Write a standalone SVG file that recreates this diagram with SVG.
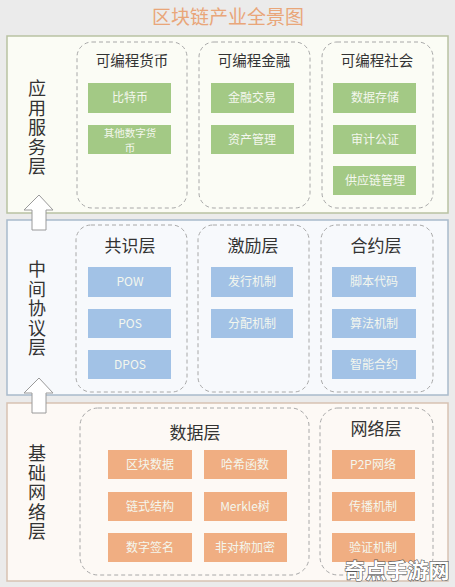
<svg xmlns="http://www.w3.org/2000/svg" width="455" height="587" viewBox="0 0 455 587">
<style>
text{font-family:"Noto Sans CJK SC","Noto Sans",sans-serif;text-anchor:middle}
.title{font-size:19px;fill:#e9a679}
.side{font-size:18px;fill:#333;writing-mode:vertical-rl;letter-spacing:1.5px}
.hdr{font-size:14.5px;fill:#333}
.hdr2{font-size:17px;fill:#333}
.dash{fill:none;stroke:#a8a8a8;stroke-width:1;stroke-dasharray:4,3}
.g{fill:#a3c985}
.b{fill:#a2c2e6}
.o{fill:#f0ae82}
.bt{font-size:12px;fill:#f4f7ee}
.bs{font-size:10.5px;fill:#f4f7ee}
.arrow{fill:#fff;stroke:#9a9a9a;stroke-width:1}
</style>
<rect width="455" height="587" fill="#ebebeb"/>
<text class="title" x="228" y="24">区块链产业全景图</text>

<g id="app-layer">
<rect x="7" y="36" width="441" height="177" fill="#fbfcf5" stroke="#b9c2a2" stroke-width="1.5"/>
<text class="side" x="37" y="128">应用服务层</text>
</g>
<g id="prog-money">
<rect class="dash" x="77" y="42" width="110" height="166" rx="15"/>
<text class="hdr" x="132" y="66">可编程货币</text>
<rect class="g" x="88" y="83" width="83" height="30"/>
<text class="bt" x="130" y="102">比特币</text>
<rect class="g" x="88" y="125" width="83" height="29"/>
<text class="bs" x="130" y="136.5">其他数字货<tspan x="130" dy="15.5">币</tspan></text>
</g>
<g id="prog-finance">
<rect class="dash" x="199" y="42" width="111" height="166" rx="15"/>
<text class="hdr" x="254" y="66">可编程金融</text>
<rect class="g" x="211" y="83" width="83" height="30"/>
<text class="bt" x="252" y="102">金融交易</text>
<rect class="g" x="211" y="125" width="83" height="29"/>
<text class="bt" x="252" y="144">资产管理</text>
</g>
<g id="prog-society">
<rect class="dash" x="322" y="42" width="111" height="166" rx="15"/>
<text class="hdr" x="377" y="66">可编程社会</text>
<rect class="g" x="333" y="83" width="83" height="30"/>
<text class="bt" x="375" y="102">数据存储</text>
<rect class="g" x="333" y="125" width="83" height="29"/>
<text class="bt" x="375" y="144">审计公证</text>
<rect class="g" x="333" y="166" width="83" height="29"/>
<text class="bt" x="375" y="185">供应链管理</text>
</g>

<g id="protocol-layer">
<rect x="7" y="220" width="441" height="175" fill="#f7f9fc" stroke="#a9bacb" stroke-width="1.5"/>
<text class="side" x="37" y="309">中间协议层</text>
</g>
<g id="consensus">
<rect class="dash" x="76" y="225" width="111" height="167" rx="15"/>
<text class="hdr2" x="130" y="252">共识层</text>
<rect class="b" x="88" y="267" width="83" height="30"/>
<text class="bt" x="130" y="286">POW</text>
<rect class="b" x="88" y="309" width="83" height="29"/>
<text class="bt" x="130" y="328">POS</text>
<rect class="b" x="88" y="350" width="83" height="29"/>
<text class="bt" x="130" y="369">DPOS</text>
</g>
<g id="incentive">
<rect class="dash" x="198" y="225" width="111" height="167" rx="15"/>
<text class="hdr2" x="253" y="252">激励层</text>
<rect class="b" x="211" y="267" width="82" height="30"/>
<text class="bt" x="252" y="286">发行机制</text>
<rect class="b" x="211" y="309" width="82" height="29"/>
<text class="bt" x="252" y="328">分配机制</text>
</g>
<g id="contract">
<rect class="dash" x="321" y="225" width="112" height="167" rx="15"/>
<text class="hdr2" x="376" y="252">合约层</text>
<rect class="b" x="332" y="267" width="84" height="30"/>
<text class="bt" x="374" y="286">脚本代码</text>
<rect class="b" x="332" y="309" width="84" height="29"/>
<text class="bt" x="374" y="328">算法机制</text>
<rect class="b" x="332" y="350" width="84" height="29"/>
<text class="bt" x="374" y="369">智能合约</text>
</g>

<g id="base-layer">
<rect x="7" y="403" width="441" height="178" fill="#fdf9f5" stroke="#d7c2b2" stroke-width="1.5"/>
<text class="side" x="37" y="493">基础网络层</text>
</g>
<g id="data-layer">
<rect class="dash" x="80" y="408" width="229" height="167" rx="18"/>
<text class="hdr2" x="195" y="439">数据层</text>
<rect class="o" x="108" y="450" width="84" height="29"/>
<text class="bt" x="150" y="469">区块数据</text>
<rect class="o" x="204" y="450" width="83" height="29"/>
<text class="bt" x="245" y="469">哈希函数</text>
<rect class="o" x="108" y="492" width="84" height="29"/>
<text class="bt" x="150" y="511">链式结构</text>
<rect class="o" x="204" y="492" width="83" height="29"/>
<text class="bt" x="245" y="511">Merkle树</text>
<rect class="o" x="108" y="533" width="84" height="29"/>
<text class="bt" x="150" y="552">数字签名</text>
<rect class="o" x="204" y="533" width="83" height="29"/>
<text class="bt" x="245" y="552">非对称加密</text>
</g>
<g id="network-layer">
<rect class="dash" x="320" y="408" width="113" height="167" rx="18"/>
<text class="hdr2" x="376" y="435">网络层</text>
<rect class="o" x="332" y="450" width="83" height="29"/>
<text class="bt" x="373" y="469">P2P网络</text>
<rect class="o" x="332" y="492" width="83" height="29"/>
<text class="bt" x="373" y="511">传播机制</text>
<rect class="o" x="332" y="533" width="83" height="29"/>
<text class="bt" x="373" y="552">验证机制</text>
</g>

<g id="connectors">
<path class="arrow" d="M39,195 L53,210 L46,210 L46,230 L32,230 L32,210 L24,210 Z"/>
<path class="arrow" d="M39,378 L53,393 L46,393 L46,413 L32,413 L32,393 L24,393 Z"/>
</g>
<text x="397" y="578" style="font-size:21px;font-weight:bold;fill:#fff;stroke:#555;stroke-width:1.2;paint-order:stroke">奇点手游网</text>
</svg>
